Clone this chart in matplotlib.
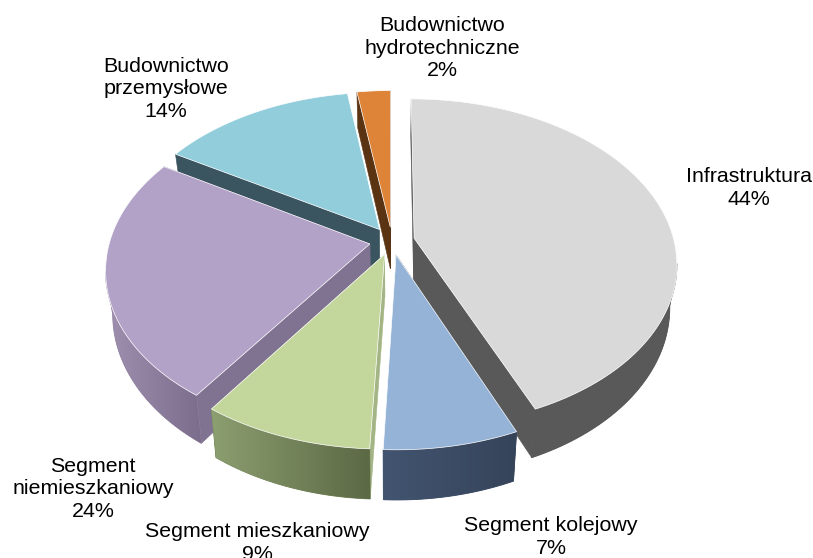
import numpy as np
import matplotlib
matplotlib.use("Agg")
import matplotlib.pyplot as plt
from matplotlib.patches import Polygon
from matplotlib.colors import to_rgb

categories = ["Infrastruktura", "Segment kolejowy", "Segment mieszkaniowy",
              "Segment niemieszkaniowy", "Budownictwo przemysłowe", "Budownictwo hydrotechniczne"]
values = [43.6, 7.1, 9.0, 23.9, 14.0, 2.4]
label_text = ["Infrastruktura\n44%", "Segment kolejowy\n7%", "Segment mieszkaniowy\n9%",
              "Segment\nniemieszkaniowy\n24%", "Budownictwo\nprzemysłowe\n14%",
              "Budownictwo\nhydrotechniczne\n2%"]
label_x = [749, 551, 257, 93, 166, 442]
label_y = [188, 537, 543, 489, 89, 48]
top_colors = ["#D9D9D9", "#95B3D7", "#C3D69B", "#B3A2C7", "#92CDDC", "#DD8438"]
wall_right = ["#595959", "#36445A", "#5C6945", "#7B6D8C", "#375560", "#5A3312"]
wall_left = ["#595959", "#425470", "#8C9F70", "#A090B0", "#375560", "#5A3312"]
cut_colors = ["#595959", "#3A4A60", "#A3B585", "#7F7391", "#3A5560", "#5A3312"]

CX, CY = 392, 241
A, B, K = 260, 161, 0.15
DEPTH = 42
EXPLODE = 0.087
SHRINK = 0.975


def project(u, v, lift=False):
    s = 1 / (1 - K * v)
    x = CX + A * u * s
    y = CY + B * v * s
    if lift:
        x = CX + (x - CX) * SHRINK
        y = y + DEPTH * s
    return x, y


fig = plt.figure(figsize=(8.13, 5.58), dpi=100)
ax = fig.add_axes([0, 0, 1, 1])
ax.axis("off")

fractions = np.array(values, dtype=float) / np.sum(values)
starts = np.concatenate([[0], np.cumsum(fractions)[:-1]]) * 2 * np.pi
ends = starts + fractions * 2 * np.pi
draw_order = [5, 4, 0, 3, 2, 1]

for z, i in enumerate(draw_order):
    mid = (starts[i] + ends[i]) / 2
    ou, ov = EXPLODE * np.sin(mid), -EXPLODE * np.cos(mid)
    th = np.linspace(starts[i], ends[i], 120)
    us = ou + np.sin(th)
    vs = ov - np.cos(th)
    top = np.array([project(u, v) for u, v in zip(us, vs)])
    bot = np.array([project(u, v, True) for u, v in zip(us, vs)])
    apex = np.array(project(ou, ov))
    apex_b = np.array(project(ou, ov, True))
    base = z * 10 + 2

    mid_pt = top[len(top) // 2]
    for rim, rim_b in ((top[0], bot[0]), (top[-1], bot[-1])):
        e = rim - apex
        m = mid_pt - apex
        t = m[0] / e[0] if abs(e[0]) > 1e-6 else None
        if t is not None and m[1] < apex[1] + e[1] * t:
            ax.add_patch(Polygon([apex, rim, rim_b, apex_b], closed=True,
                                 facecolor=cut_colors[i], edgecolor=cut_colors[i],
                                 lw=0.4, zorder=base))

    keep = np.where(np.diff(top[:, 0]) < 0)[0]
    if len(keep):
        idx = np.arange(keep[0], keep[-1] + 2)
        wall = np.vstack([top[idx], bot[idx][::-1]])
        c_r, c_l = np.array(to_rgb(wall_right[i])), np.array(to_rgb(wall_left[i]))
        under = (c_r + c_l) / 2
        poly = Polygon(wall, closed=True, facecolor=under, edgecolor=under, lw=0.6,
                       zorder=base + 1)
        ax.add_patch(poly)
        ramp = np.linspace(0, 1, 128)[:, None]
        grad = (c_l + (c_r - c_l) * ramp)[None, :, :]
        im = ax.imshow(grad, extent=(wall[:, 0].min(), wall[:, 0].max(),
                                     wall[:, 1].max(), wall[:, 1].min()),
                       aspect="auto", zorder=base + 1, interpolation="bilinear")
        im.set_clip_path(poly)

    ax.add_patch(Polygon(np.vstack([apex, top]), closed=True, facecolor=top_colors[i],
                         edgecolor="white", lw=0.5, joinstyle="miter", zorder=base + 2))

ax.set_xlim(0, 813)
ax.set_ylim(558, 0)

for txt, x, y in zip(label_text, label_x, label_y):
    ax.text(x, y, txt, ha="center", va="center", fontsize=15.4, family="Liberation Sans",
            color="#000000", linespacing=1.22, zorder=100, clip_on=False)

fig.savefig("out.png", dpi=100)
